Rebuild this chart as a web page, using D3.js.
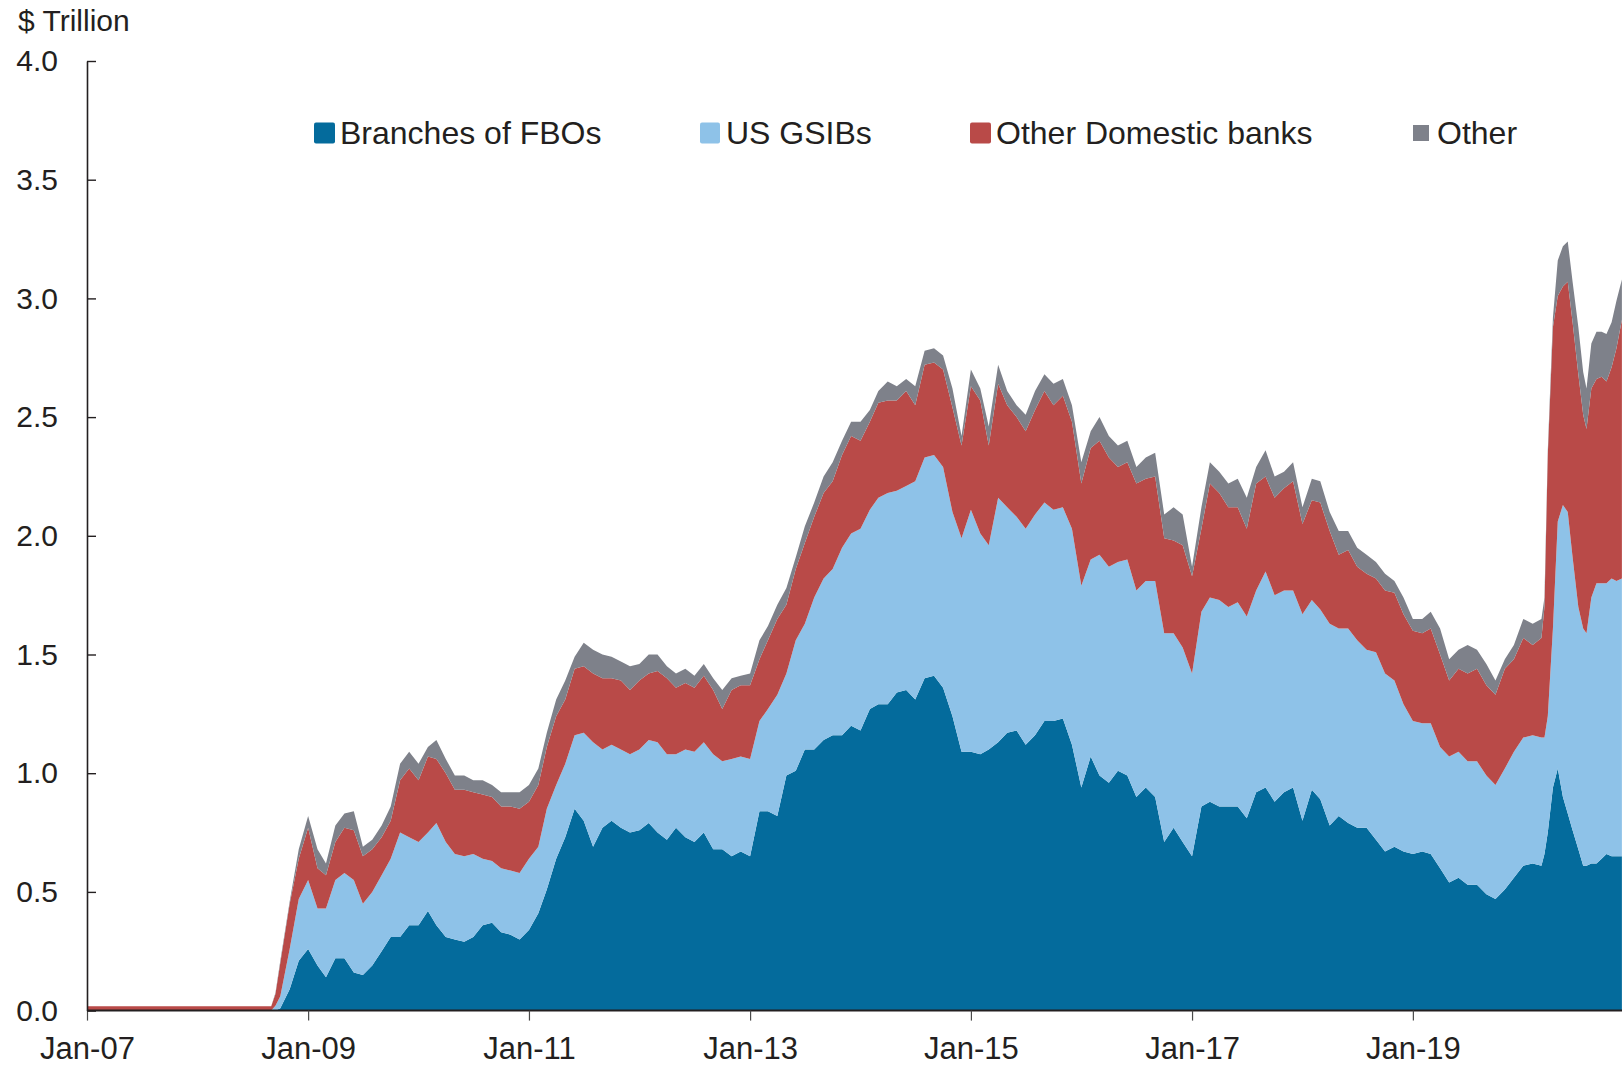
<!DOCTYPE html>
<html>
<head>
<meta charset="utf-8">
<script src="https://cdn.jsdelivr.net/npm/d3@7"></script>
<style>
  html, body { margin: 0; padding: 0; background: #ffffff; }
  svg { display: block; }
  text { font-family: "Liberation Sans", Arial, Helvetica, sans-serif; fill: #231f20; }
</style>
</head>
<body>
<svg id="chart" width="1622" height="1065"></svg>
<script>
// ---------------- DATA ($ trillion) ----------------
const dates = [
  "2007-01-01","2007-07-01","2008-01-01","2008-09-01","2008-09-15","2008-10-01","2008-11-01","2008-12-01",
  "2009-01-01","2009-02-01","2009-03-01","2009-04-01","2009-05-01","2009-06-01","2009-07-01","2009-08-01","2009-09-01","2009-10-01","2009-11-01","2009-12-01",
  "2010-01-01","2010-02-01","2010-03-01","2010-04-01","2010-05-01","2010-06-01","2010-07-01","2010-08-01","2010-09-01","2010-10-01","2010-11-01","2010-12-01",
  "2011-01-01","2011-02-01","2011-03-01","2011-04-01","2011-05-01","2011-06-01","2011-07-01","2011-08-01","2011-09-01","2011-10-01","2011-11-01","2011-12-01",
  "2012-01-01","2012-02-01","2012-03-01","2012-04-01","2012-05-01","2012-06-01","2012-07-01","2012-08-01","2012-09-01","2012-10-01","2012-11-01","2012-12-01",
  "2013-01-01","2013-02-01","2013-03-01","2013-04-01","2013-05-01","2013-06-01","2013-07-01","2013-08-01","2013-09-01","2013-10-01","2013-11-01","2013-12-01",
  "2014-01-01","2014-02-01","2014-03-01","2014-04-01","2014-05-01","2014-06-01","2014-07-01","2014-08-01","2014-09-01","2014-10-01","2014-11-01","2014-12-01",
  "2015-01-01","2015-02-01","2015-03-01","2015-04-01","2015-05-01","2015-06-01","2015-07-01","2015-08-01","2015-09-01","2015-10-01","2015-11-01","2015-12-01",
  "2016-01-01","2016-02-01","2016-03-01","2016-04-01","2016-05-01","2016-06-01","2016-07-01","2016-08-01","2016-09-01","2016-10-01","2016-11-01","2016-12-01",
  "2017-01-01","2017-02-01","2017-03-01","2017-04-01","2017-05-01","2017-06-01","2017-07-01","2017-08-01","2017-09-01","2017-10-01","2017-11-01","2017-12-01",
  "2018-01-01","2018-02-01","2018-03-01","2018-04-01","2018-05-01","2018-06-01","2018-07-01","2018-08-01","2018-09-01","2018-10-01","2018-11-01","2018-12-01",
  "2019-01-01","2019-02-01","2019-03-01","2019-04-01","2019-05-01","2019-06-01","2019-07-01","2019-08-01","2019-09-01","2019-10-01","2019-11-01","2019-12-01",
  "2020-01-01","2020-02-01","2020-03-01","2020-03-11","2020-03-22","2020-04-08","2020-04-24","2020-05-11","2020-05-27","2020-06-12",
  "2020-07-01","2020-07-17","2020-07-28","2020-08-13","2020-08-30","2020-09-16","2020-10-02","2020-10-19","2020-11-04","2020-11-22"
];

const branchesFBOs = [
  0,0,0,0,0,.01,.09,.21,
  .26,.19,.14,.22,.22,.16,.15,.19,.25,.31,.31,.36,
  .36,.42,.36,.31,.30,.29,.31,.36,.37,.33,.32,.30,
  .34,.41,.51,.64,.73,.85,.80,.69,.77,.80,.77,.75,
  .76,.79,.75,.72,.77,.73,.71,.75,.68,.68,.65,.67,
  .65,.84,.84,.82,.99,1.01,1.10,1.10,1.14,1.16,1.16,1.20,
  1.18,1.27,1.29,1.29,1.34,1.35,1.31,1.40,1.41,1.36,1.24,1.09,
  1.09,1.08,1.10,1.13,1.17,1.18,1.12,1.16,1.22,1.22,1.23,1.12,
  .94,1.07,.99,.96,1.01,.99,.90,.94,.90,.71,.77,.71,
  .65,.86,.88,.86,.86,.86,.81,.92,.94,.88,.92,.94,
  .80,.93,.89,.78,.82,.79,.77,.77,.72,.67,.69,.67,
  .66,.67,.66,.60,.54,.56,.53,.53,.49,.47,.51,.56,
  .61,.62,.61,.66,.75,.94,1.02,.90,.83,.76,
  .68,.61,.61,.62,.62,.64,.66,.65,.65,.65
];

const usGSIBs = [
  0,0,0,0,.02,.05,.17,.26,
  .29,.24,.29,.33,.36,.39,.30,.31,.32,.33,.44,.37,
  .35,.33,.43,.40,.36,.36,.35,.28,.26,.27,.27,.28,
  .30,.28,.34,.31,.31,.31,.37,.44,.33,.32,.33,.33,
  .34,.35,.38,.36,.31,.37,.38,.38,.40,.37,.41,.40,
  .41,.38,.43,.51,.43,.55,.53,.64,.68,.70,.79,.81,
  .85,.84,.87,.89,.85,.86,.92,.93,.93,.93,.86,.90,
  1.02,.93,.86,1.03,.95,.90,.91,.93,.92,.89,.89,.91,
  .85,.83,.93,.91,.88,.91,.87,.87,.91,.88,.82,.82,
  .77,.82,.86,.87,.84,.86,.85,.85,.91,.87,.85,.83,
  .87,.80,.80,.85,.79,.82,.79,.75,.79,.75,.70,.62,
  .56,.54,.55,.51,.53,.53,.52,.52,.50,.48,.51,.53,
  .54,.54,.54,.49,.49,.67,1.04,1.23,1.27,1.15,
  1.02,1.00,.98,1.12,1.18,1.16,1.14,1.17,1.16,1.17
];

const otherDomestic = [
  .018,.018,.018,.018,.05,.14,.19,.17,
  .22,.17,.14,.16,.19,.21,.20,.18,.16,.16,.22,.29,
  .26,.32,.27,.29,.27,.28,.26,.27,.27,.26,.27,.27,
  .24,.26,.26,.29,.27,.28,.28,.29,.30,.28,.29,.27,
  .29,.28,.30,.32,.28,.28,.27,.28,.27,.22,.29,.30,
  .31,.26,.29,.32,.29,.30,.34,.34,.36,.37,.39,.41,
  .37,.37,.40,.39,.38,.40,.32,.39,.39,.41,.44,.39,
  .52,.56,.42,.48,.43,.42,.41,.44,.47,.44,.47,.45,
  .43,.47,.48,.46,.40,.41,.45,.43,.44,.40,.39,.43,
  .41,.35,.48,.45,.42,.40,.37,.45,.40,.41,.43,.46,
  .38,.42,.45,.39,.31,.33,.31,.32,.31,.35,.37,.38,
  .38,.38,.40,.39,.32,.35,.37,.39,.38,.38,.42,.39,
  .42,.38,.42,.55,1.10,1.27,.95,.92,.97,.99,
  .98,.90,.86,.88,.86,.87,.85,.89,.98,1.09
];

const other = [
  0,0,0,0,.005,.01,.01,.04,
  .05,.08,.05,.07,.06,.08,.04,.04,.05,.06,.07,.07,
  .07,.04,.08,.06,.06,.06,.05,.06,.05,.06,.06,.07,
  .07,.07,.06,.07,.08,.05,.10,.10,.10,.09,.08,.10,
  .07,.08,.07,.05,.06,.06,.05,.05,.05,.08,.05,.04,
  .05,.08,.06,.06,.07,.05,.07,.06,.07,.08,.06,.06,
  .08,.05,.05,.08,.06,.05,.08,.06,.06,.06,.08,.04,
  .07,.05,.08,.08,.06,.05,.07,.08,.07,.09,.07,.07,
  .09,.07,.10,.09,.09,.09,.07,.09,.10,.10,.14,.13,
  .04,.09,.09,.09,.10,.12,.13,.07,.11,.09,.07,.08,
  .07,.09,.09,.08,.10,.08,.08,.08,.07,.07,.05,.07,
  .05,.06,.07,.11,.09,.08,.12,.08,.09,.06,.04,.06,
  .08,.09,.08,.04,.02,.04,.15,.17,.17,.17,
  .20,.18,.17,.19,.20,.19,.20,.19,.20,.17
];

const seriesNames = ["Branches of FBOs", "US GSIBs", "Other Domestic banks", "Other"];
const seriesColors = ["#046b9c", "#8ec2e8", "#b94a48", "#7e818a"];
const yTicks = [0, 0.5, 1.0, 1.5, 2.0, 2.5, 3.0, 3.5, 4.0];
const xTickDates = ["2007-01-01","2009-01-01","2011-01-01","2013-01-01","2015-01-01","2017-01-01","2019-01-01"];
const yAxisTitle = "$ Trillion";

// ---------------- BUILD ----------------
const parse = d3.timeParse("%Y-%m-%d");
const keys = ["fbo", "gsib", "odom", "oth"];
const table = dates.map((d, i) => ({
  date: parse(d),
  fbo: branchesFBOs[i], gsib: usGSIBs[i], odom: otherDomestic[i], oth: other[i]
}));

const svg = d3.select("#chart");
const x0 = 87, yBase = 1010.6, yTop = 61, pxPerYear = 110.5;

const x = d3.scaleTime()
  .domain([parse("2007-01-01"), parse("2021-01-01")])
  .range([x0, x0 + 14 * pxPerYear]);
const y = d3.scaleLinear().domain([0, 4]).range([yBase, yTop]);

const stack = d3.stack().keys(keys);
const layers = stack(table);

const area = d3.area()
  .x(d => x(d.data.date))
  .y0(d => y(d[0]))
  .y1(d => y(d[1]))
  .curve(d3.curveLinear);

svg.append("g").selectAll("path")
  .data(layers)
  .join("path")
  .attr("d", area)
  .attr("fill", (d, i) => seriesColors[i])
  .attr("stroke", "none");

// X axis
const xAxis = d3.axisBottom(x)
  .tickValues(xTickDates.map(parse))
  .tickFormat(d3.timeFormat("Jan-%y"))
  .tickSize(10)
  .tickSizeOuter(0)
  .tickPadding(16);

const gx = svg.append("g")
  .attr("transform", `translate(0,${yBase})`)
  .call(xAxis);
gx.select(".domain").attr("stroke", "#231f20").attr("stroke-width", 2)
  .attr("d", `M${x0},0H1622`);
gx.selectAll(".tick line").attr("stroke", "#4a4a4a").attr("stroke-width", 1.2);
gx.selectAll(".tick text")
  .attr("font-size", 31)
  .attr("fill", "#231f20")
  .attr("font-family", "'Liberation Sans', Arial, sans-serif");

// Y axis
const yAxis = d3.axisLeft(y)
  .tickValues(yTicks)
  .tickFormat(d3.format(".1f"))
  .tickSize(-9)
  .tickSizeOuter(0)
  .tickPadding(29);

const gy = svg.append("g")
  .attr("transform", `translate(${x0},0)`)
  .call(yAxis);
gy.select(".domain").attr("stroke", "#231f20").attr("stroke-width", 1.6);
gy.selectAll(".tick line").attr("stroke", "#231f20").attr("stroke-width", 1.4);
gy.selectAll(".tick text")
  .attr("font-size", 30)
  .attr("fill", "#231f20")
  .attr("font-family", "'Liberation Sans', Arial, sans-serif");

// Y title
svg.append("text")
  .attr("x", 18)
  .attr("y", 31)
  .attr("font-size", 30)
  .text(yAxisTitle);

// Legend
const legendItems = [
  { sx: 314, sy: 122.5, sw: 21, sh: 21, tx: 340 },
  { sx: 700, sy: 122.5, sw: 20, sh: 21, tx: 726 },
  { sx: 970, sy: 122.5, sw: 21, sh: 21, tx: 996 },
  { sx: 1413, sy: 125, sw: 16, sh: 16, tx: 1437 }
];
const lg = svg.append("g");
legendItems.forEach((it, i) => {
  lg.append("rect")
    .attr("x", it.sx).attr("y", it.sy)
    .attr("width", it.sw).attr("height", it.sh)
    .attr("rx", i < 3 ? 2 : 0)
    .attr("fill", seriesColors[i]);
  lg.append("text")
    .attr("x", it.tx).attr("y", 144)
    .attr("font-size", 32)
    .text(seriesNames[i]);
});
</script>
</body>
</html>
